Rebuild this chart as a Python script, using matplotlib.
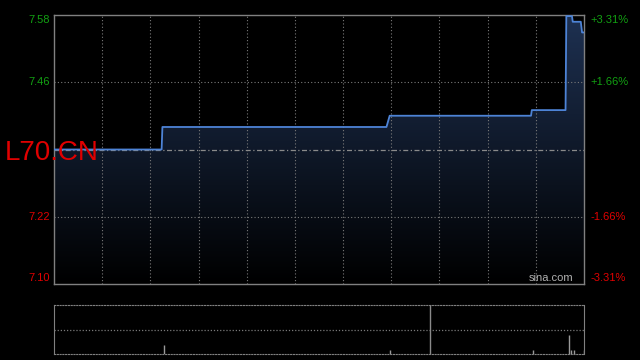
import numpy as np
import matplotlib
matplotlib.use("Agg")
import matplotlib.pyplot as plt
from matplotlib.colors import LinearSegmentedColormap

# ---- data ----
minutes = [0, 67, 67.5, 207, 209, 297, 297.5, 318.5, 319, 322.5, 323, 328, 328.8, 330]
prices = [7.34, 7.34, 7.38, 7.38, 7.40, 7.40, 7.41, 7.41, 7.577, 7.577, 7.567, 7.567, 7.548, 7.548]
prev_close = 7.34
grid_levels = [7.46, 7.22]
left_labels = ["7.58", "7.46", "7.22", "7.10"]
right_labels = ["+3.31%", "+1.66%", "-1.66%", "-3.31%"]
vol_minutes = [68.5, 209.2, 298.2, 320.4, 321.9, 323.8, 330]
volumes = [370, 160, 160, 780, 160, 160, 160]
symbol = "L70.CN"

GREEN = "#12a012"
RED = "#e00000"
GRID = "#7a7a7a"

fig = plt.figure(figsize=(6.4, 3.6), dpi=100, facecolor="black")
W, H = 640, 360
ax = fig.add_axes([54 / W, (H - 284) / H, 530 / W, 269 / H], facecolor="black")
ymin, ymax = 7.101, 7.579
xmin, xmax = 0, 330
ax.set_xlim(xmin, xmax)
ax.set_ylim(ymin, ymax)

# gradient fill under line
cmap = LinearSegmentedColormap.from_list("g", ["#000000", "#1e3152"])
grad = np.linspace(0, 1, 256).reshape(-1, 1)
im = ax.imshow(grad, extent=[xmin, xmax, ymin, ymax], origin="lower", aspect="auto",
               cmap=cmap, zorder=1)
poly = ax.fill_between(minutes, prices, ymin, color="none", zorder=1)
im.set_clip_path(poly.get_paths()[0], transform=ax.transData)

ax.plot(minutes, prices, color="#4d83d6", lw=1.3, zorder=4)

# grid
for i in range(1, 11):
    ax.axvline(xmin + (xmax - xmin) * i / 11, color=GRID, lw=0.8, ls=(0, (1, 2)), zorder=2)
for v in grid_levels:
    ax.axhline(v, color=GRID, lw=0.8, ls=(0, (1, 2)), zorder=2)
ax.axhline(prev_close, color="#8a8a8a", lw=0.9, ls=(0, (4, 2, 1, 2)), zorder=3)

for s in ax.spines.values():
    s.set_color("#808080")
    s.set_linewidth(1)
ax.set_xticks([])
ax.set_yticks([])

# label positions: top/bottom labels sit just inside the axes edges
span = ymax - ymin
label_pos = [ymax - span * 5 / 269, grid_levels[0], grid_levels[1], ymin + span * 6 / 269]
for pos, ll, rl in zip(label_pos, left_labels, right_labels):
    c = GREEN if pos > prev_close else RED
    ax.annotate(ll, (0, pos), xycoords=("axes fraction", "data"), xytext=(-3, 0),
                textcoords="offset points", ha="right", va="center", color=c,
                fontsize=8, family="Liberation Sans")
    ax.annotate(rl, (1, pos), xycoords=("axes fraction", "data"), xytext=(4.5, 0),
                textcoords="offset points", ha="left", va="center", color=c,
                fontsize=8, family="Liberation Sans")

ax.text(0.979, 0.004, "sina.com", transform=ax.transAxes, ha="right", va="bottom",
        color="#b0b0b0", fontsize=8, family="Liberation Sans", zorder=5)

fig.text(5 / W, (H - 160) / H, symbol, color=RED, fontsize=20, family="Liberation Sans",
         ha="left", va="baseline")

# volume panel
axv = fig.add_axes([54 / W, (H - 354) / H, 530 / W, 49 / H], facecolor="black")
axv.set_xlim(xmin, xmax)
axv.set_ylim(0, 2000)
axv.vlines(vol_minutes, 0, volumes, color="#9a9a9a", lw=1, zorder=3)
axv.axhline(1000, color=GRID, lw=0.9, ls=(0, (1, 1.5)))
axv.axvline(234.1, color="#8a8a8a", lw=1)
axv.set_xticks([])
axv.set_yticks([])
for k in ["left", "right"]:
    axv.spines[k].set_color("#808080")
for k in ["top", "bottom"]:
    axv.spines[k].set_color("#808080")
    axv.spines[k].set_linestyle((0, (1, 1.5)))

fig.savefig("out.png", dpi=100, facecolor="black")
